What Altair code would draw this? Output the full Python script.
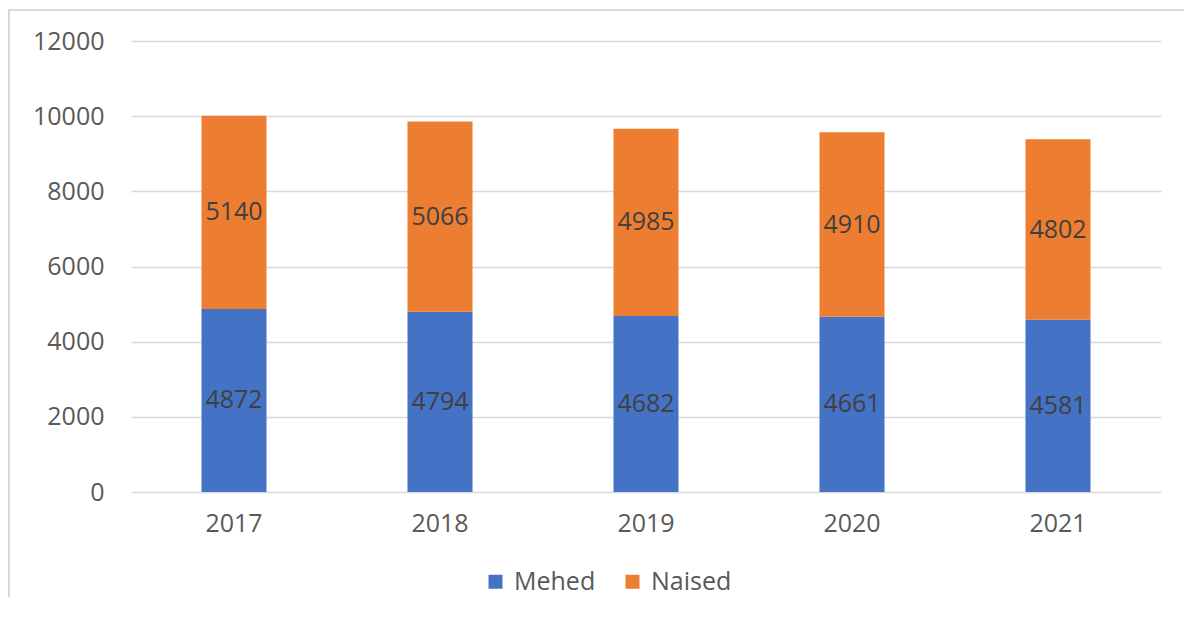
import altair as alt
import pandas as pd

years = ["2017", "2018", "2019", "2020", "2021"]
mehed = [4872, 4794, 4682, 4661, 4581]
naised = [5140, 5066, 4985, 4910, 4802]
series = ["Mehed", "Naised"]
colors = ["#4472C4", "#ED7D31"]

rows = []
for i, y in enumerate(years):
    rows.append({"year": y, "group": "Mehed", "order": 0, "value": mehed[i]})
    rows.append({"year": y, "group": "Naised", "order": 1, "value": naised[i]})
df = pd.DataFrame(rows)

FONT = "Open Sans"
FS = 25

x = alt.X("year:N", title=None, sort=years,
          axis=alt.Axis(labelAngle=0, labelFontSize=FS, labelColor="#595959",
                        labelFont=FONT, ticks=False, tickSize=0, domain=False,
                        grid=False, labelPadding=19))
y_axis = alt.Axis(values=list(range(0, 12001, 2000)), format="d", labelFontSize=FS,
                  labelColor="#595959", labelFont=FONT, ticks=False, tickSize=0,
                  domain=False, grid=True, gridColor="#d9d9d9", gridWidth=1.5,
                  labelPadding=27)

bars = alt.Chart(df).mark_bar(size=65).encode(
    x=x,
    y=alt.Y("value:Q", title=None, stack="zero",
            scale=alt.Scale(domain=[0, 12000], nice=False), axis=y_axis),
    color=alt.Color("group:N", sort=series,
                    scale=alt.Scale(domain=series, range=colors),
                    legend=alt.Legend(title=None, orient="none", legendX=352, legendY=528,
                                      direction="horizontal", symbolType="square",
                                      symbolSize=196, symbolStrokeWidth=0,
                                      labelFontSize=FS, labelFont=FONT,
                                      labelColor="#595959", columnPadding=24,
                                      labelOffset=6, padding=0)),
    order=alt.Order("order:Q"),
)

labels = alt.Chart(df).transform_window(
    cum="sum(value)", groupby=["year"], sort=[alt.SortField("order")],
    frame=[None, 0]
).transform_calculate(
    mid="datum.cum - datum.value / 2"
).mark_text(fontSize=FS, font=FONT, color="#404040", baseline="middle").encode(
    x=alt.X("year:N", sort=years),
    y=alt.Y("mid:Q"),
    text=alt.Text("value:Q", format="d"),
)

border = alt.Chart(pd.DataFrame({"k": [0]})).mark_rect(
    fill=None, stroke="#d9d9d9", strokeWidth=2
).encode(
    x=alt.value(-122), x2=alt.value(1200),
    y=alt.value(-31), y2=alt.value(800),
)

chart = alt.layer(bars, labels, border).properties(
    width=1030, height=451,
    background="white",
    autosize=alt.AutoSizeParams(type="none"),
    padding={"left": 123, "top": 33, "right": 23, "bottom": 105},
).configure_view(strokeWidth=0, stroke="transparent")

chart.save("out.html", embed_options={"renderer": "svg", "actions": False})
